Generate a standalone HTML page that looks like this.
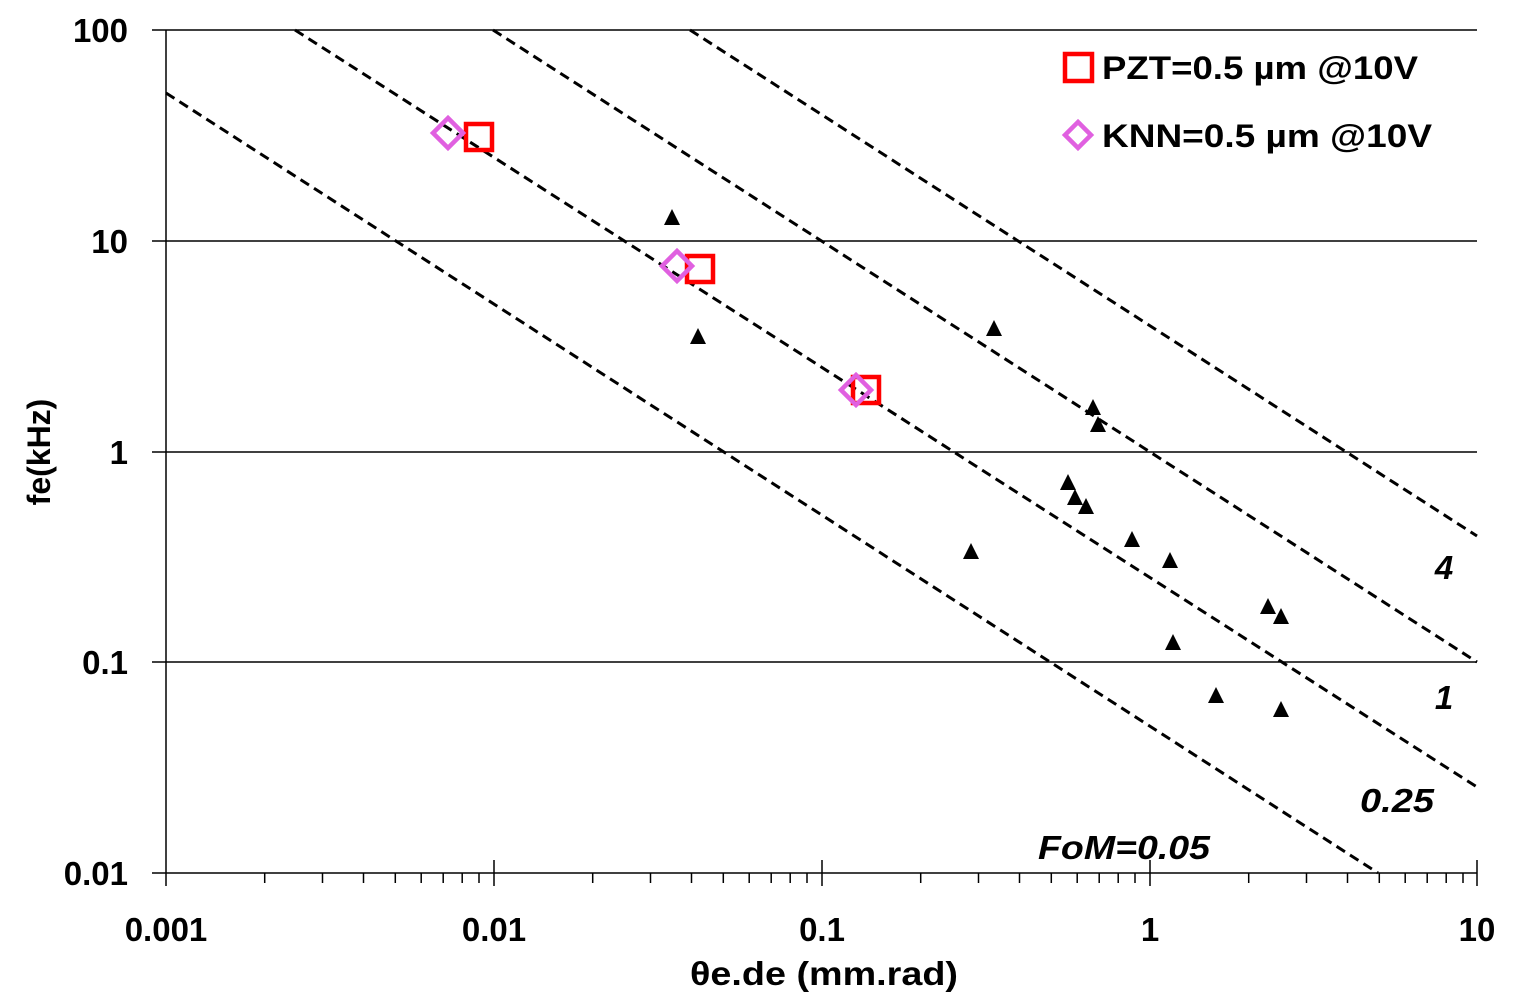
<!DOCTYPE html>
<html><head><meta charset="utf-8"><style>
html,body{margin:0;padding:0;background:#fff;}
svg{display:block;font-family:"Liberation Sans",sans-serif;font-weight:bold;}
</style></head><body>
<svg width="1513" height="1008" viewBox="0 0 1513 1008" xmlns="http://www.w3.org/2000/svg">
<g stroke="#000" stroke-width="1.5">
<line x1="152" y1="30" x2="1477" y2="30"/>
<line x1="152" y1="241" x2="1477" y2="241"/>
<line x1="152" y1="452" x2="1477" y2="452"/>
<line x1="152" y1="662" x2="1477" y2="662"/>
<line x1="152" y1="873" x2="1477" y2="873"/>
<line x1="166" y1="30" x2="166" y2="886"/>
</g>
<g stroke="#000" stroke-width="1.5">
<line x1="494" y1="860" x2="494" y2="886"/><line x1="822" y1="860" x2="822" y2="886"/><line x1="1150" y1="860" x2="1150" y2="886"/><line x1="1477" y1="860" x2="1477" y2="886"/>
</g>
<g stroke="#000" stroke-width="1.5">
<line x1="264.7" y1="873" x2="264.7" y2="883"/><line x1="322.5" y1="873" x2="322.5" y2="883"/><line x1="363.5" y1="873" x2="363.5" y2="883"/><line x1="395.3" y1="873" x2="395.3" y2="883"/><line x1="421.2" y1="873" x2="421.2" y2="883"/><line x1="443.2" y1="873" x2="443.2" y2="883"/><line x1="462.2" y1="873" x2="462.2" y2="883"/><line x1="479" y1="873" x2="479" y2="883"/>
<line x1="592.7" y1="873" x2="592.7" y2="883"/><line x1="650.5" y1="873" x2="650.5" y2="883"/><line x1="691.5" y1="873" x2="691.5" y2="883"/><line x1="723.3" y1="873" x2="723.3" y2="883"/><line x1="749.2" y1="873" x2="749.2" y2="883"/><line x1="771.2" y1="873" x2="771.2" y2="883"/><line x1="790.2" y1="873" x2="790.2" y2="883"/><line x1="807" y1="873" x2="807" y2="883"/>
<line x1="920.7" y1="873" x2="920.7" y2="883"/><line x1="978.5" y1="873" x2="978.5" y2="883"/><line x1="1019.5" y1="873" x2="1019.5" y2="883"/><line x1="1051.3" y1="873" x2="1051.3" y2="883"/><line x1="1077.2" y1="873" x2="1077.2" y2="883"/><line x1="1099.2" y1="873" x2="1099.2" y2="883"/><line x1="1118.2" y1="873" x2="1118.2" y2="883"/><line x1="1135" y1="873" x2="1135" y2="883"/>
<line x1="1248.7" y1="873" x2="1248.7" y2="883"/><line x1="1306.5" y1="873" x2="1306.5" y2="883"/><line x1="1347.5" y1="873" x2="1347.5" y2="883"/><line x1="1379.3" y1="873" x2="1379.3" y2="883"/><line x1="1405.2" y1="873" x2="1405.2" y2="883"/><line x1="1427.2" y1="873" x2="1427.2" y2="883"/><line x1="1446.2" y1="873" x2="1446.2" y2="883"/><line x1="1463" y1="873" x2="1463" y2="883"/>
</g>
<g stroke="#000" stroke-width="3" stroke-dasharray="10,6" fill="none">
<line x1="166" y1="93" x2="1378" y2="873"/>
<line x1="295" y1="30" x2="1477" y2="787"/>
<line x1="493" y1="30" x2="1477" y2="662"/>
<line x1="690" y1="30" x2="1477" y2="536"/>
</g>
<g fill="#000">
<polygon points="672,209 664,225 680,225"/><polygon points="698,328 690,344 706,344"/><polygon points="994,320 986,336 1002,336"/><polygon points="1093,399 1085,415 1101,415"/><polygon points="1098,416 1090,432 1106,432"/><polygon points="1068,474 1060,490 1076,490"/><polygon points="1075,489 1067,505 1083,505"/><polygon points="1086,498 1078,514 1094,514"/><polygon points="971,543 963,559 979,559"/><polygon points="1132,531 1124,547 1140,547"/><polygon points="1170,552 1162,568 1178,568"/><polygon points="1268,598 1260,614 1276,614"/><polygon points="1281,608 1273,624 1289,624"/><polygon points="1173,634 1165,650 1181,650"/><polygon points="1216,687 1208,703 1224,703"/><polygon points="1281,701 1273,717 1289,717"/>
</g>
<g fill="none" stroke="#ff0000" stroke-width="4.5">
<rect x="466" y="124" width="26" height="26"/><rect x="687" y="256" width="26" height="26"/><rect x="853" y="377" width="26" height="26"/>
<rect x="1065" y="54" width="27" height="27"/>
</g>
<g fill="none" stroke="#e060e0" stroke-width="4.5">
<polygon points="448,118 463,133 448,148 433,133"/><polygon points="677,251 692,266 677,281 662,266"/><polygon points="856,375 871,390 856,405 841,390"/>
<polygon points="1078,122 1091,135 1078,148 1065,135"/>
</g>
<g font-size="32" fill="#000">
<text x="1102" y="79" textLength="316" lengthAdjust="spacingAndGlyphs">PZT=0.5 µm @10V</text>
<text x="1102" y="147" textLength="330" lengthAdjust="spacingAndGlyphs">KNN=0.5 µm @10V</text>
</g>
<g font-size="33" fill="#000" text-anchor="end">
<text x="128" y="42">100</text><text x="128" y="253">10</text><text x="128" y="464">1</text><text x="128" y="674">0.1</text><text x="128" y="885">0.01</text>
</g>
<g font-size="33" fill="#000" text-anchor="middle">
<text x="166" y="941">0.001</text><text x="494" y="941">0.01</text><text x="822" y="941">0.1</text><text x="1150" y="941">1</text><text x="1477" y="941">10</text>
<text x="824" y="985" textLength="268" lengthAdjust="spacingAndGlyphs">θe.de (mm.rad)</text>
</g>
<text x="0" y="0" font-size="32" text-anchor="middle" transform="translate(50,452) rotate(-90)">fe(kHz)</text>
<g font-size="33" font-style="italic" fill="#000" text-anchor="middle">
<text x="1444" y="579">4</text><text x="1444" y="709">1</text><text x="1397" y="812" textLength="74" lengthAdjust="spacingAndGlyphs">0.25</text><text x="1124" y="859" textLength="172" lengthAdjust="spacingAndGlyphs">FoM=0.05</text>
</g>
</svg>
</body></html>
